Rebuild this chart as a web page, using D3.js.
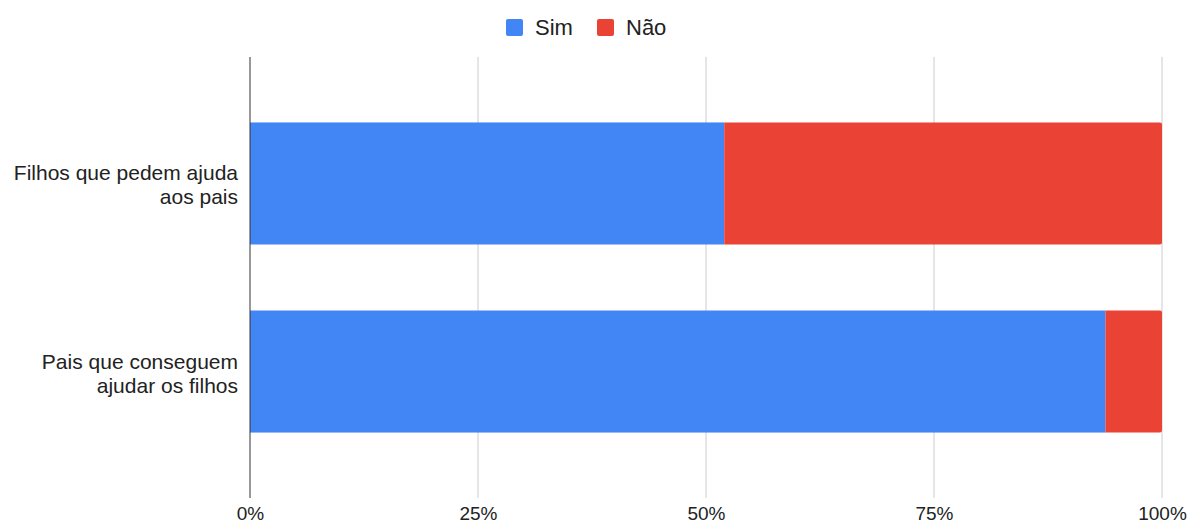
<!DOCTYPE html>
<html>
<head>
<meta charset="utf-8">
<script src="https://cdn.jsdelivr.net/npm/d3@7"></script>
<style>
  html, body { margin: 0; padding: 0; background: #fff; }
  svg { display: block; font-family: Arial, "Liberation Sans", Helvetica, sans-serif; }
</style>
</head>
<body>
<svg id="chart" width="1187" height="525"></svg>
<script>
// Share of answers per group (percent)
const categories = [["Filhos que pedem ajuda", "aos pais"], ["Pais que conseguem", "ajudar os filhos"]];
const seriesNames = ["Sim", "Não"];
const simValues = [52.0, 93.8];
const naoValues = [48.0, 6.2];
const tickValues = [0, 25, 50, 75, 100];
const colors = ["#4285F4", "#EA4335"];

const svg = d3.select("#chart");
const plot = { left: 250, right: 1162, top: 57, bottom: 498 };

const x = d3.scaleLinear().domain([0, 100]).range([plot.left, plot.right]);
const y = d3.scaleBand()
  .domain(d3.range(categories.length))
  .range([plot.top, plot.bottom])
  .paddingInner(0.351)
  .paddingOuter(0.348);

// Vertical gridlines
svg.append("g")
  .selectAll("line")
  .data(tickValues.filter(d => d > 0))
  .join("line")
  .attr("x1", d => x(d)).attr("x2", d => x(d))
  .attr("y1", plot.top).attr("y2", plot.bottom)
  .attr("stroke", "#cccccc").attr("stroke-width", 1);

// Stacked bars
const rows = categories.map((c, i) => ({ i, parts: [simValues[i], naoValues[i]] }));
rows.forEach(row => {
  let acc = 0;
  row.parts.forEach((v, k) => {
    const x0 = x(acc), x1 = x(acc + v);
    acc += v;
    const isLast = k === row.parts.length - 1;
    const yy = y(row.i), h = y.bandwidth();
    if (isLast) {
      const r = 2;
      svg.append("path")
        .attr("d", `M${x0},${yy} H${x1 - r} Q${x1},${yy} ${x1},${yy + r} V${yy + h - r} Q${x1},${yy + h} ${x1 - r},${yy + h} H${x0} Z`)
        .attr("fill", colors[k]);
    } else {
      svg.append("rect")
        .attr("x", x0).attr("y", yy)
        .attr("width", x1 - x0).attr("height", h)
        .attr("fill", colors[k]);
    }
  });
});

// Zero baseline
svg.append("line")
  .attr("x1", x(0)).attr("x2", x(0))
  .attr("y1", plot.top).attr("y2", plot.bottom)
  .attr("stroke", "#333333").attr("stroke-width", 1);

// X axis tick labels
const xAxis = d3.axisBottom(x).tickValues(tickValues).tickFormat(d => d + "%").tickSize(0).tickPadding(0);
const gx = svg.append("g").attr("transform", `translate(0, 520)`).call(xAxis);
gx.select(".domain").remove();
gx.selectAll("text")
  .attr("y", 0)
  .attr("dy", 0)
  .attr("fill", "#222")
  .style("font-size", "19px")
  .style("font-family", "Arial, 'Liberation Sans', sans-serif");

// Category labels (two lines, right aligned)
categories.forEach((lines, i) => {
  const cy = y(i) + y.bandwidth() / 2;
  const t = svg.append("text")
    .attr("text-anchor", "end")
    .attr("fill", "#222")
    .style("font-size", "21px");
  lines.forEach((ln, j) => {
    t.append("tspan")
      .attr("x", 238)
      .attr("y", cy - 3 + j * 24)
      .text(ln);
  });
});

// Legend
const legend = svg.append("g");
const legendItems = [{ name: seriesNames[0], x: 506 }, { name: seriesNames[1], x: 597 }];
legendItems.forEach((it, k) => {
  legend.append("rect")
    .attr("x", it.x).attr("y", 19)
    .attr("width", 17).attr("height", 17)
    .attr("rx", 2)
    .attr("fill", colors[k]);
  legend.append("text")
    .attr("x", it.x + 29).attr("y", 35)
    .attr("fill", "#222")
    .style("font-size", "22px")
    .text(it.name);
});
</script>
</body>
</html>
